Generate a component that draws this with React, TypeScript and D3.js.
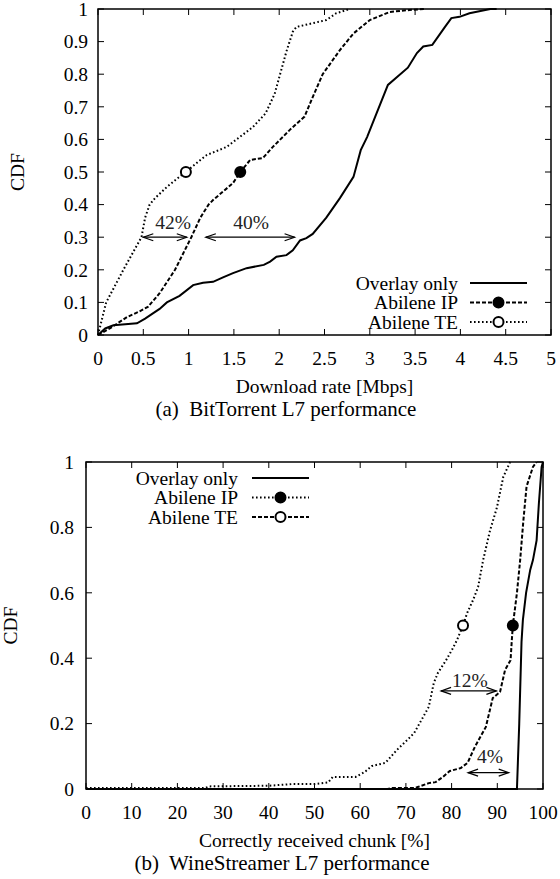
import React from "react";
import * as d3 from "d3";

// (a) BitTorrent download rate CDFs [Mbps, CDF]
const btOverlay: [number, number][] = [
  [0, 0], [0.08, 0.02], [0.17, 0.03], [0.3, 0.033], [0.43, 0.036], [0.52, 0.05],
  [0.61, 0.067], [0.68, 0.08], [0.76, 0.1], [0.9, 0.12], [1.05, 0.153], [1.16, 0.16],
  [1.27, 0.163], [1.38, 0.177], [1.49, 0.19], [1.64, 0.205], [1.83, 0.215], [1.9, 0.225],
  [1.97, 0.24], [2.08, 0.245], [2.15, 0.26], [2.23, 0.29], [2.3, 0.297], [2.37, 0.31],
  [2.52, 0.36], [2.67, 0.42], [2.82, 0.485], [2.9, 0.567], [2.97, 0.607], [3.06, 0.67],
  [3.2, 0.767], [3.42, 0.82], [3.52, 0.865], [3.59, 0.885], [3.69, 0.89], [3.83, 0.945],
  [3.9, 0.972], [3.99, 0.976], [4.1, 0.987], [4.33, 1.0], [4.4, 1.0],
];
const btIP: [number, number][] = [
  [0, 0], [0.13, 0.02], [0.32, 0.055], [0.44, 0.07], [0.55, 0.086], [0.68, 0.128],
  [0.85, 0.2], [1.03, 0.3], [1.13, 0.36], [1.22, 0.4], [1.27, 0.414], [1.49, 0.466],
  [1.57, 0.5], [1.68, 0.537], [1.82, 0.543], [1.93, 0.577], [2.12, 0.63], [2.28, 0.67],
  [2.37, 0.73], [2.48, 0.8], [2.67, 0.874], [2.82, 0.925], [3.0, 0.966], [3.22, 0.991],
  [3.44, 0.997], [3.6, 1.0],
];
const btTE: [number, number][] = [
  [0, 0], [0.09, 0.1], [0.28, 0.2], [0.48, 0.3], [0.52, 0.36], [0.57, 0.4], [0.63, 0.42],
  [0.76, 0.454], [0.92, 0.49], [0.97, 0.5], [1.13, 0.537], [1.2, 0.552], [1.42, 0.577],
  [1.71, 0.638], [1.85, 0.68], [1.95, 0.74], [2.0, 0.79], [2.08, 0.87], [2.15, 0.93],
  [2.19, 0.945], [2.52, 0.966], [2.63, 0.987], [2.78, 1.0],
];
const btMedianIP = 1.57;
const btMedianTE = 0.97;

// (b) WineStreamer correctly received chunk CDFs [%, CDF]
const wsOverlay: [number, number][] = [
  [0, 0], [94.3, 0], [94.8, 0.2], [95.3, 0.45], [95.6, 0.517], [96.3, 0.6], [97.2, 0.67],
  [97.8, 0.7], [98.6, 0.76], [99.1, 0.874], [99.7, 0.985], [100, 1.0],
];
const wsDashed: [number, number][] = [
  [0, 0], [66, 0], [67, 0.003], [72, 0.003], [72.6, 0.006], [75, 0.018], [76.5, 0.021],
  [78.1, 0.037], [79.6, 0.055], [82, 0.064], [83.5, 0.08], [85.1, 0.129], [87.5, 0.19],
  [89, 0.278], [90.6, 0.297], [91.7, 0.364], [92.9, 0.394], [93.2, 0.46], [93.4, 0.5],
  [94.3, 0.6], [95, 0.7], [95.7, 0.82], [96.4, 0.925], [97.8, 0.985], [98.6, 1.0],
];
const wsDotted: [number, number][] = [
  [0, 0.003], [26, 0.003], [27, 0.008], [40, 0.01], [45, 0.015], [50, 0.015], [53, 0.02],
  [54, 0.037], [59, 0.037], [61, 0.052], [62.5, 0.07], [65.5, 0.08], [68, 0.119],
  [70.3, 0.15], [71.8, 0.171], [73.4, 0.211], [75, 0.251], [76.1, 0.324], [77, 0.355],
  [78.8, 0.394], [80.1, 0.426], [81.2, 0.456], [82.5, 0.5], [83.4, 0.538], [84.7, 0.578],
  [85.8, 0.618], [86.9, 0.7], [88.4, 0.79], [89.9, 0.86], [91.3, 0.954], [92.8, 1.0],
];
const wsMedianDashed = 93.4;
const wsMedianDotted = 82.5;

const btXTicks = [0, 0.5, 1, 1.5, 2, 2.5, 3, 3.5, 4, 4.5, 5];
const btYTicks = [0, 0.1, 0.2, 0.3, 0.4, 0.5, 0.6, 0.7, 0.8, 0.9, 1];
const wsXTicks = [0, 10, 20, 30, 40, 50, 60, 70, 80, 90, 100];
const wsYTicks = [0, 0.2, 0.4, 0.6, 0.8, 1];

const legendNames = ["Overlay only", "Abilene IP", "Abilene TE"];

// double-headed arrows: [from, to, cdf, label, labelX, labelY]
const btArrows: [number, number, number, string, number, number][] = [
  [0.5, 0.98, 0.3, "42%", 0.83, 0.347],
  [1.19, 2.17, 0.3, "40%", 1.69, 0.347],
];
const wsArrows: [number, number, number, string, number, number][] = [
  [77.7, 89.8, 0.3, "12%", 84, 0.333],
  [83.6, 92.5, 0.05, "4%", 88.4, 0.1],
];

const FONT = "Liberation Serif, Times New Roman, Times, DejaVu Serif, serif";
const SOLID = "none";
const DASH = "4,2";
const DOT = "1.6,2.4";

type Series = { data: [number, number][]; dash: string; marker?: { x: number; filled: boolean } };

function Arrow({ x1, x2, y }: { x1: number; x2: number; y: number }) {
  const h = 10, w = 3.5;
  return (
    <g stroke="#000" strokeWidth={1.2} fill="none">
      <line x1={x1} y1={y} x2={x2} y2={y} />
      <path d={`M${x1 + h},${y - w}L${x1},${y}L${x1 + h},${y + w}`} />
      <path d={`M${x2 - h},${y - w}L${x2},${y}L${x2 - h},${y + w}`} />
    </g>
  );
}

function Panel(props: {
  left: number; right: number; top: number; bottom: number;
  xDomain: [number, number]; xTicks: number[]; yTicks: number[];
  series: Series[]; legend: { dash: string; marker?: boolean }[];
  legendRight: number; legendTop: number; legendStep: number; legendLine: [number, number];
  arrows: [number, number, number, string, number, number][];
  xLabel: string; caption: string; captionX: number; yLabelX: number; yTickGap: number;
}) {
  const x = d3.scaleLinear().domain(props.xDomain).range([props.left, props.right]);
  const y = d3.scaleLinear().domain([0, 1]).range([props.bottom, props.top]);
  const line = d3.line<[number, number]>().x(d => x(d[0])).y(d => y(d[1]));
  const tick = 6;
  const cx = (props.left + props.right) / 2;
  return (
    <g style={{ fontFamily: FONT, fontSize: "19.5px" }}>
      {props.series.map((s, i) => (
        <path key={i} d={line(s.data) || ""} fill="none" stroke="#000" strokeWidth={2}
          strokeDasharray={s.dash} />
      ))}
      {props.series.map((s, i) => s.marker ? (
        <circle key={i} cx={x(s.marker.x)} cy={y(0.5)} r={5}
          fill={s.marker.filled ? "#000" : "#fff"} stroke="#000" strokeWidth={2} />
      ) : null)}
      {props.arrows.map((a, i) => (
        <g key={i}>
          <Arrow x1={x(a[0])} x2={x(a[1])} y={y(a[2])} />
          <text x={x(a[4])} y={y(a[5])} dy="0.35em" textAnchor="middle" fill="#222">{a[3]}</text>
        </g>
      ))}
      <rect x={props.left} y={props.top} width={props.right - props.left}
        height={props.bottom - props.top} fill="none" stroke="#000" strokeWidth={1.5} />
      {props.xTicks.map(t => (
        <g key={"x" + t}>
          <line x1={x(t)} x2={x(t)} y1={props.bottom} y2={props.bottom - tick} stroke="#000" />
          <line x1={x(t)} x2={x(t)} y1={props.top} y2={props.top + tick} stroke="#000" />
          <text x={x(t)} y={props.bottom + 23} dy="0.35em" textAnchor="middle">{String(t)}</text>
        </g>
      ))}
      {props.yTicks.map(t => (
        <g key={"y" + t}>
          <line x1={props.left} x2={props.left + tick} y1={y(t)} y2={y(t)} stroke="#000" />
          <line x1={props.right} x2={props.right - tick} y1={y(t)} y2={y(t)} stroke="#000" />
          <text x={props.left - props.yTickGap} y={y(t)} dy="0.35em" textAnchor="end">{String(t)}</text>
        </g>
      ))}
      {legendNames.map((name, i) => {
        const ly = props.legendTop + i * props.legendStep;
        const lg = props.legend[i];
        const [l0, l1] = props.legendLine;
        return (
          <g key={name}>
            <text x={props.legendRight} y={ly} dy="0.35em" textAnchor="end">{name}</text>
            <line x1={l0} x2={l1} y1={ly} y2={ly} stroke="#000" strokeWidth={2} strokeDasharray={lg.dash} />
            {i > 0 ? (
              <circle cx={(l0 + l1) / 2} cy={ly} r={5} fill={lg.marker ? "#000" : "#fff"}
                stroke="#000" strokeWidth={2} />
            ) : null}
          </g>
        );
      })}
      <text transform={`translate(${props.yLabelX},${y(0.5)}) rotate(-90)`} dy="0.35em"
        textAnchor="middle">CDF</text>
      <text x={cx} y={props.bottom + 51} dy="0.35em" textAnchor="middle">{props.xLabel}</text>
      <text x={props.captionX} y={props.bottom + 74} dy="0.35em" textAnchor="middle"
        style={{ fontSize: "21px", whiteSpace: "pre" }}>{props.caption}</text>
    </g>
  );
}

export default function App() {
  return (
    <div style={{ position: "absolute", left: 0, top: 0 }}>
      <svg width={560} height={879} style={{ display: "block", background: "#fff" }}>
        <Panel left={98} right={551} top={9} bottom={335}
          xDomain={[0, 5]} xTicks={btXTicks} yTicks={btYTicks}
          series={[
            { data: btOverlay, dash: SOLID },
            { data: btIP, dash: DASH, marker: { x: btMedianIP, filled: true } },
            { data: btTE, dash: DOT, marker: { x: btMedianTE, filled: false } },
          ]}
          legend={[{ dash: SOLID }, { dash: DASH, marker: true }, { dash: DOT, marker: false }]}
          legendRight={458} legendTop={283} legendStep={19.5} legendLine={[470, 527]}
          arrows={btArrows}
          xLabel="Download rate [Mbps]" caption="(a)  BitTorrent L7 performance"
          captionX={286} yLabelX={17} yTickGap={10}
        />
        <Panel left={86} right={543} top={462} bottom={789}
          xDomain={[0, 100]} xTicks={wsXTicks} yTicks={wsYTicks}
          series={[
            { data: wsOverlay, dash: SOLID },
            { data: wsDashed, dash: DASH, marker: { x: wsMedianDashed, filled: true } },
            { data: wsDotted, dash: DOT, marker: { x: wsMedianDotted, filled: false } },
          ]}
          legend={[{ dash: SOLID }, { dash: DOT, marker: true }, { dash: DASH, marker: false }]}
          legendRight={238} legendTop={478} legendStep={19.5} legendLine={[252, 309]}
          arrows={wsArrows}
          xLabel="Correctly received chunk [%]" caption="(b)  WineStreamer L7 performance"
          captionX={282} yLabelX={10} yTickGap={12}
        />
      </svg>
    </div>
  );
}
